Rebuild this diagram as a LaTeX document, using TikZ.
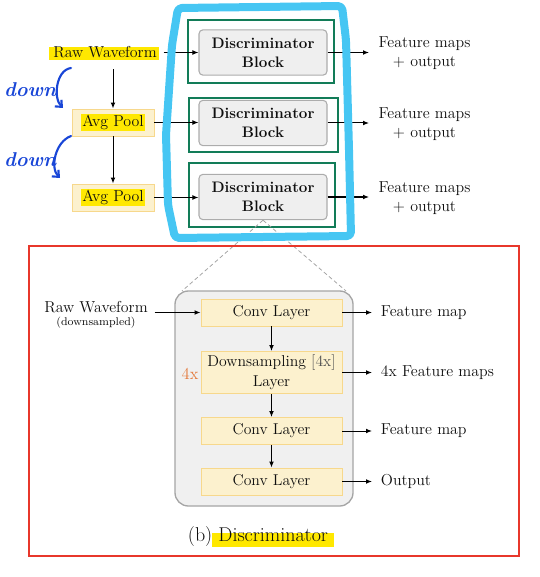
\documentclass[tikz,border=0pt]{standalone}
\usetikzlibrary{arrows.meta,calc}
\definecolor{grn}{RGB}{18,124,88}
\definecolor{blkf}{RGB}{239,239,239}
\definecolor{blkd}{RGB}{172,172,172}
\definecolor{ylwf}{RGB}{252,241,206}
\definecolor{ylwd}{RGB}{247,216,140}
\definecolor{hlc}{RGB}{255,232,0}
\definecolor{redr}{RGB}{232,55,43}
\definecolor{sky}{RGB}{70,198,243}
\definecolor{ink}{RGB}{25,70,215}
\definecolor{orng}{RGB}{228,122,60}
\definecolor{outf}{RGB}{240,240,240}
\definecolor{outd}{RGB}{165,165,165}
\definecolor{txt}{RGB}{15,15,15}
\definecolor{dgray}{RGB}{80,80,80}
\newcommand{\myhl}[1]{{\setlength{\fboxsep}{1.2pt}\colorbox{hlc}{#1}}}
\begin{document}
\begin{tikzpicture}[x=0.75pt,y=-0.75pt,
  every node/.style={font=\fontsize{11.9}{14}\selectfont, text=txt},
  arr/.style={-{Latex[length=4.5pt,width=3.6pt]}, line width=0.75pt, black},
  disc/.style={draw=blkd, fill=blkf, rounded corners=3pt, line width=0.8pt,
    minimum width=96pt, minimum height=34pt, inner sep=0pt, align=center,
    font=\bfseries\fontsize{11.4}{14.25}\selectfont},
  frame/.style={draw=grn, line width=1.5pt},
  pool/.style={draw=ylwd, fill=ylwf, line width=0.7pt, minimum width=61.5pt,
    minimum height=20.25pt, inner sep=0pt},
  conv/.style={draw=ylwd, fill=ylwf, line width=0.7pt, minimum width=105.75pt,
    minimum height=20.25pt, inner sep=0pt, align=center,
    font=\fontsize{11.8}{15}\selectfont},
  outtxt/.style={anchor=west, inner xsep=7pt, align=center,
    font=\fontsize{11.9}{14.25}\selectfont},
  zoomline/.style={draw=outd, line width=0.6pt, dash pattern=on 3pt off 2pt},
  inkarr/.style={draw=ink, line width=1.6pt, line cap=round,
    -{Straight Barb[length=4pt,width=7pt]}},
  inktxt/.style={text=ink, font=\itshape\bfseries\fontsize{15}{16}\selectfont}
]
\useasboundingbox (0,0) rectangle (539,577);

% ---------- top part ----------
\fill[hlc] (49,47) rectangle (159,60);
\node[inner xsep=5pt, inner ysep=8pt] (rt) at (105,52.5) {Raw Waveform};

\node[pool] (p1) at (113,122.5) {\myhl{Avg Pool}};
\node[pool] (p2) at (113,197.5) {\myhl{Avg Pool}};

\draw[frame] (188,20) rectangle (334,83);
\draw[frame] (189,98) rectangle (338,152);
\draw[frame] (189,163) rectangle (335,227);

\node[disc] (d1) at (263,52.5) {Discriminator\\Block};
\node[disc] (d2) at (263,123) {Discriminator\\Block};
\node[disc] (d3) at (263,197) {Discriminator\\Block};

\node[outtxt] (f1) at (369,53.5) {Feature maps\\+ output};
\node[outtxt] (f2) at (369,124) {Feature maps\\+ output};
\node[outtxt] (f3) at (369,198.5) {Feature maps\\+ output};

\draw[arr] (rt.east |- d1.west) -- (d1.west);
\draw[arr] (p1.east) -- (p1.east -| d2.west);
\draw[arr] (p2.east) -- (p2.east -| d3.west);
\draw[arr] (p1.north |- rt.south) -- (p1.north);
\draw[arr] (p1.south) -- (p2.north);
\draw[arr] (d1.east) -- (d1.east -| f1.west);
\draw[arr] (d2.east) -- (d2.east -| f2.west);
\draw[arr] (d3.east) -- (d3.east -| f3.west);

% ---------- zoom lines ----------
\coordinate (zl) at (182,291);
\coordinate (zr) at (346,291);
\draw[zoomline] (d3.south) -- (zl);
\draw[zoomline] (d3.south) -- (zr);

% ---------- bottom part ----------
\draw[redr, line width=1.5pt] (29,246) rectangle (519,556);

\node[draw=outd, fill=outf, line width=1pt, rounded corners=10pt,
  minimum width=133.5pt, minimum height=161.25pt] (ob) at (264,398.5) {};

\node[conv] (c1) at (271.5,312.5) {Conv Layer};
\node[conv, minimum height=31.5pt] (ds) at (271.5,372.5) {Downsampling {\color{dgray}[4x]}\\Layer};
\node[conv] (c2) at (271.5,431) {Conv Layer};
\node[conv] (c3) at (271.5,481.5) {Conv Layer};

\node[text=orng, font=\fontsize{12.5}{14}\selectfont] (fx) at (190,374) {4x};

\node[inner xsep=5pt] (rb) at (96,307) {Raw Waveform};
\node[font=\fontsize{8.4}{10}\selectfont, inner sep=0pt] (rbs) at (96,323) {(downsampled)};

\node[outtxt, inner xsep=6.5pt] (o1) at (372,313) {Feature map};
\node[outtxt, inner xsep=6.5pt] (o2) at (372,373) {4x Feature maps};
\node[outtxt, inner xsep=6.5pt] (o3) at (372,431) {Feature map};
\node[outtxt, inner xsep=6.5pt] (o4) at (372,481.5) {Output};

\draw[arr] (rb.east |- c1.west) -- (c1.west);
\draw[arr] (c1.south) -- (ds.north);
\draw[arr] (ds.south) -- (c2.north);
\draw[arr] (c2.south) -- (c3.north);
\draw[arr] (c1.east) -- (c1.east -| o1.west);
\draw[arr] (ds.east) -- (ds.east -| o2.west);
\draw[arr] (c2.east) -- (c2.east -| o3.west);
\draw[arr] (c3.east) -- (c3.east -| o4.west);

\fill[hlc] (212,533) rectangle (334,547);
\node[font=\fontsize{15}{17}\selectfont, inner sep=0pt] (cap) at (258,537) {(b) Discriminator};

% ---------- hand annotations ----------
\draw[sky, line width=6pt, line join=round, rounded corners=3pt]
  (178,8) -- (342,6) -- (346,40) -- (349,150) -- (351,236) -- (175,238)
  -- (168,205) -- (166,135) -- (172,45) -- cycle;

\node[inktxt] (dn1) at (30,90) {down};
\node[inktxt] (dn2) at (30,160) {down};
\coordinate (a1s) at (71,68);  \coordinate (a1e) at (63,108);
\coordinate (a2s) at (71,136); \coordinate (a2e) at (60,178);
\draw[inkarr] (a1s) .. controls (56,70) and (53,98) .. (a1e);
\draw[inkarr] (a2s) .. controls (55,142) and (50,168) .. (a2e);
\end{tikzpicture}
\end{document}
